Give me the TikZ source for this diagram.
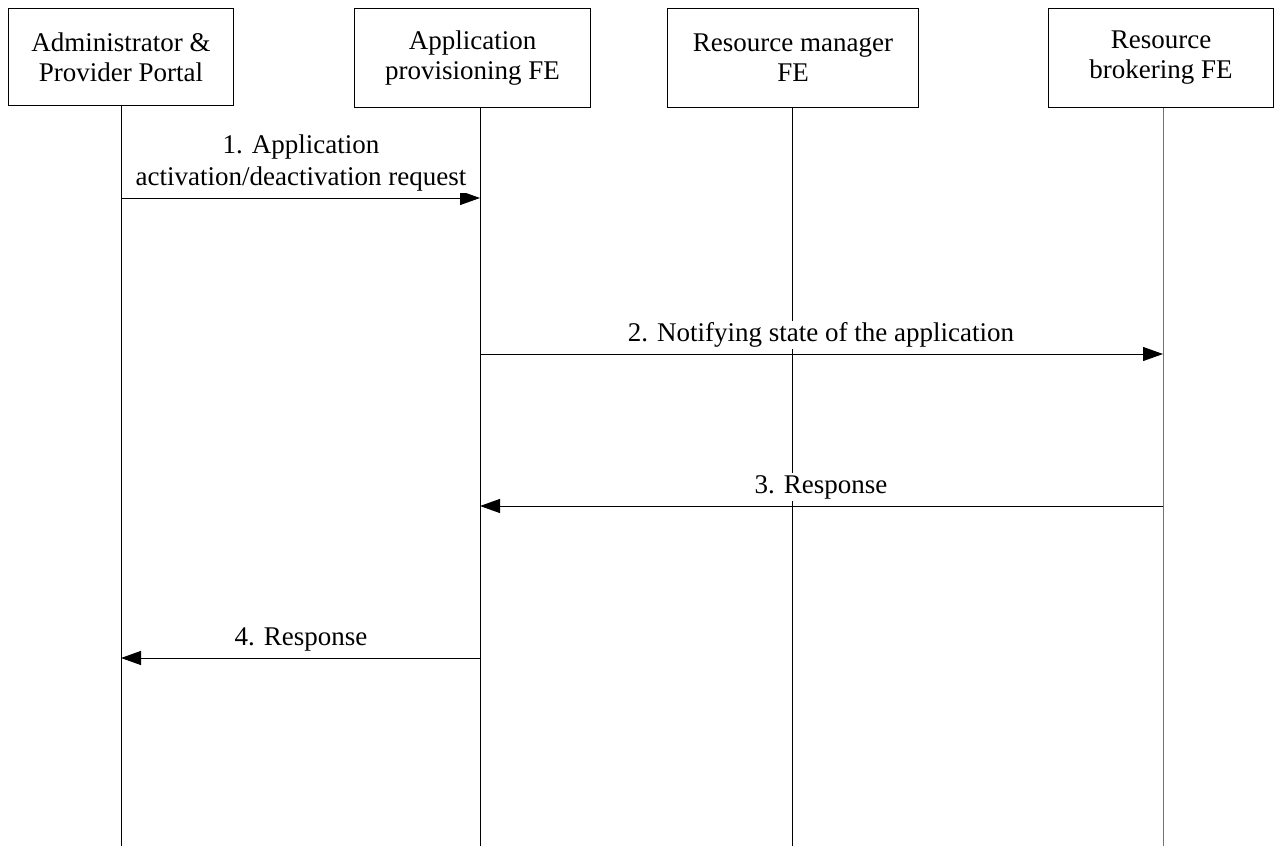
\documentclass[tikz,border=0pt]{standalone}
\usepackage{fontspec}
\setmainfont{Liberation Serif}
\usetikzlibrary{arrows.meta}
\begin{document}
\begin{tikzpicture}[x=0.5pt,y=-0.5pt,
  entity/.style={draw, line width=0.5pt, minimum height=49.5pt, inner sep=0pt, align=center, font=\fontsize{13.5}{15}\selectfont, anchor=north west},
  life/.style={line width=0.5pt},
  msg/.style={line width=0.5pt, -{Triangle[length=10pt,width=7pt]}},
  lbl/.style={fill=white, inner sep=1pt, align=center, font=\fontsize{13.5}{16}\selectfont}]
\useasboundingbox (0,0) rectangle (1274,846);
\node[entity, minimum width=112.5pt, minimum height=48.5pt] (A) at (8,8) {Administrator \&\\Provider Portal};
\node[entity, minimum width=118pt] (B) at (354,8) {Application\\provisioning FE};
\node[entity, minimum width=125.5pt] (C) at (667,8) {Resource manager\\FE};
\node[entity, minimum width=112.5pt] (D) at (1048,8) {Resource\\brokering FE};
\coordinate (Ae) at (121,846);
\coordinate (Be) at (480,846);
\coordinate (Ce) at (792,846);
\coordinate (De) at (1163,846);
\draw[life] (Ae |- A.south) -- (Ae);
\draw[life] (Be |- B.south) -- (Be);
\draw[life] (Ce |- C.south) -- (Ce);
\draw[life, black!55] (De |- D.south) -- (De);
\coordinate (m1s) at (121,198); \coordinate (m1e) at (480,198);
\coordinate (m2s) at (480,354); \coordinate (m2e) at (1163,354);
\coordinate (m3s) at (1163,506); \coordinate (m3e) at (480,506);
\coordinate (m4s) at (480,658); \coordinate (m4e) at (121,658);
\draw[msg] (m1s) -- (m1e);
\draw[msg] (m2s) -- (m2e);
\draw[msg] (m3s) -- (m3e);
\draw[msg] (m4s) -- (m4e);
\node[lbl] (l1) at (301,163) {1. Application\\activation/deactivation request};
\node[lbl] (l2) at (821,335) {2. Notifying state of the application};
\node[lbl] (l3) at (821,487) {3. Response};
\node[lbl] (l4) at (301,639) {4. Response};
\end{tikzpicture}
\end{document}
